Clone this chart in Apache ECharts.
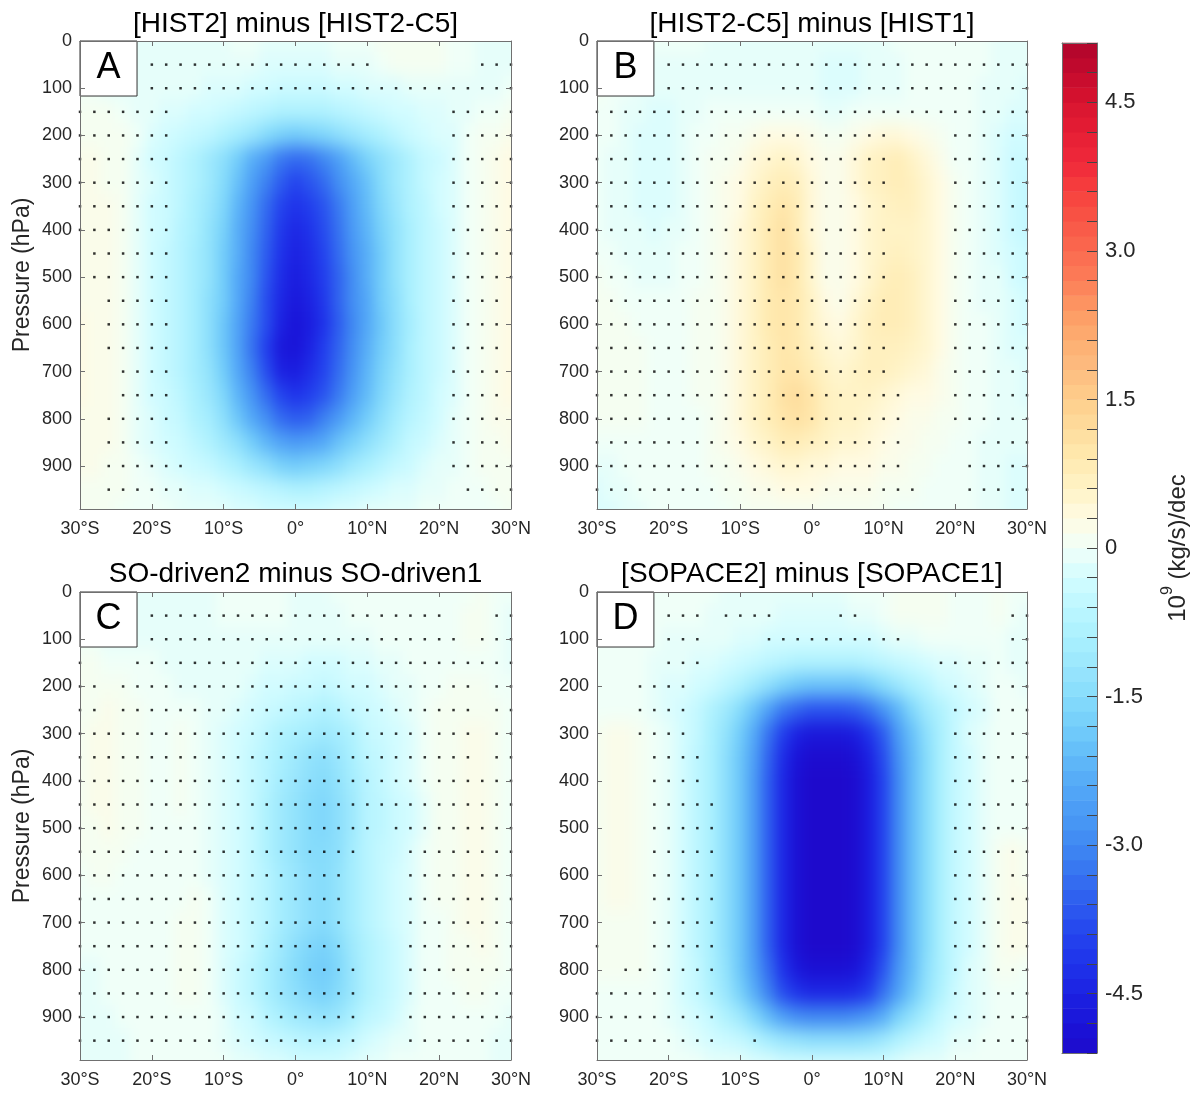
<!DOCTYPE html>
<html><head><meta charset="utf-8">
<script src="https://cdn.jsdelivr.net/npm/echarts@6/dist/echarts.min.js"></script>
<style>
html,body{margin:0;padding:0;background:#fff}
#wrap{position:relative;width:1193px;height:1093px;overflow:hidden}
#c{position:absolute;left:0;top:0;width:1193px;height:1093px;z-index:2}
.clip{position:absolute;overflow:hidden;z-index:1}
.heat{position:absolute;filter:url(#smooth)}
</style>
</head><body>
<svg width="0" height="0" style="position:absolute"><defs>
<filter id="smooth" x="-5%" y="-5%" width="110%" height="110%" color-interpolation-filters="sRGB"><feGaussianBlur stdDeviation="6 9"/></filter>
</defs></svg>
<div id="wrap"><div id="c"></div></div>
<script>
// ---------------- data ----------------
const LATS = [-30,-28,-26,-24,-22,-20,-18,-16,-14,-12,-10,-8,-6,-4,-2,0,2,4,6,8,10,12,14,16,18,20,22,24,26,28,30];
const PRESSURES = [0,50,100,150,200,250,300,350,400,450,500,550,600,650,700,750,800,850,900,950,1000];
const DOT_PRESSURES = [50,100,150,200,250,300,350,400,450,500,550,600,650,700,750,800,850,900,950];
const LAT_TICK_LABELS = ['30°S','20°S','10°S','0°','10°N','20°N','30°N'];
const PRESSURE_TICK_LABELS = ['0','100','200','300','400','500','600','700','800','900'];
const CBAR_TICK_LABELS = ['-4.5','-3.0','-1.5','0','1.5','3.0','4.5'];
const CBAR_TICK_VALUES = [-4.5,-3,-1.5,0,1.5,3,4.5];
const PANEL_TITLES = ['[HIST2] minus [HIST2-C5]','[HIST2-C5] minus [HIST1]','SO-driven2 minus SO-driven1','[SOPACE2] minus [SOPACE1]'];
const PANEL_LETTERS = ['A','B','C','D'];
const CBAR_LEVELS = [-5.1,-4.95,-4.8,-4.65,-4.5,-4.35,-4.2,-4.05,-3.9,-3.75,-3.6,-3.45,-3.3,-3.15,-3.0,-2.85,-2.7,-2.55,-2.4,-2.25,-2.1,-1.95,-1.8,-1.65,-1.5,-1.35,-1.2,-1.05,-0.9,-0.75,-0.6,-0.45,-0.3,-0.15,0,0.15,0.3,0.45,0.6,0.75,0.9,1.05,1.2,1.35,1.5,1.65,1.8,1.95,2.1,2.25,2.4,2.55,2.7,2.85,3.0,3.15,3.3,3.45,3.6,3.75,3.9,4.05,4.2,4.35,4.5,4.65,4.8,4.95];

// rows: pressure 0..1000 (step 50); columns: lat -30..30 (step 2)
const VALUES_A = [
[0.0,0.0,0.0,-0.1,-0.1,-0.1,-0.1,-0.1,-0.1,-0.1,-0.1,0.0,0.0,-0.1,-0.1,-0.1,-0.1,-0.1,0.0,0.0,0.0,0.1,0.1,0.1,0.1,0.1,0.0,0.0,-0.1,-0.1,-0.1],
[0.0,0.0,0.0,-0.1,-0.1,-0.1,-0.1,-0.1,-0.1,-0.1,-0.1,-0.1,-0.1,-0.2,-0.2,-0.2,-0.2,-0.2,-0.1,-0.1,-0.1,0.0,0.1,0.1,0.1,0.1,0.0,0.0,-0.1,-0.1,-0.1],
[0.0,0.0,-0.1,-0.1,-0.1,-0.1,-0.1,-0.1,-0.1,-0.2,-0.2,-0.2,-0.3,-0.3,-0.4,-0.4,-0.4,-0.4,-0.3,-0.3,-0.2,-0.2,-0.2,-0.1,-0.1,-0.1,-0.1,-0.1,-0.1,-0.1,0.0],
[0.1,0.1,0.1,0.0,-0.1,-0.1,-0.2,-0.2,-0.3,-0.3,-0.4,-0.5,-0.6,-0.7,-0.8,-0.8,-0.8,-0.8,-0.7,-0.6,-0.5,-0.4,-0.3,-0.3,-0.2,-0.2,-0.1,-0.1,0.0,0.0,0.1],
[0.1,0.1,0.1,0.1,0.0,-0.2,-0.3,-0.4,-0.5,-0.6,-0.8,-1.0,-1.2,-1.5,-1.7,-1.8,-1.7,-1.6,-1.4,-1.2,-1.0,-0.8,-0.6,-0.4,-0.3,-0.2,-0.2,0.0,0.1,0.1,0.2],
[0.2,0.2,0.1,0.1,-0.1,-0.3,-0.4,-0.6,-0.8,-1.1,-1.4,-1.8,-2.3,-2.7,-3.2,-3.4,-3.3,-3.0,-2.6,-2.1,-1.7,-1.4,-1.1,-0.8,-0.5,-0.4,-0.2,0.0,0.1,0.2,0.3],
[0.2,0.2,0.1,0.1,-0.1,-0.2,-0.4,-0.6,-0.8,-1.1,-1.5,-2.0,-2.6,-3.1,-3.6,-3.9,-3.7,-3.4,-2.9,-2.4,-2.0,-1.5,-1.1,-0.8,-0.5,-0.3,-0.2,0.0,0.1,0.2,0.3],
[0.2,0.2,0.2,0.1,-0.1,-0.3,-0.4,-0.6,-0.9,-1.2,-1.6,-2.2,-2.8,-3.4,-3.9,-4.2,-4.0,-3.7,-3.2,-2.6,-2.1,-1.6,-1.2,-0.8,-0.6,-0.3,-0.2,0.0,0.1,0.2,0.3],
[0.2,0.2,0.2,0.1,-0.1,-0.3,-0.4,-0.7,-0.9,-1.3,-1.7,-2.3,-2.9,-3.5,-4.1,-4.4,-4.2,-3.8,-3.3,-2.7,-2.2,-1.7,-1.3,-0.9,-0.6,-0.4,-0.2,0.0,0.1,0.2,0.3],
[0.2,0.2,0.2,0.1,-0.1,-0.3,-0.5,-0.7,-1.0,-1.3,-1.8,-2.3,-3.0,-3.6,-4.2,-4.5,-4.3,-3.9,-3.4,-2.8,-2.3,-1.8,-1.3,-0.9,-0.6,-0.4,-0.2,0.0,0.1,0.2,0.3],
[0.2,0.2,0.2,0.1,-0.1,-0.3,-0.5,-0.7,-1.0,-1.3,-1.8,-2.4,-3.0,-3.7,-4.3,-4.6,-4.4,-4.0,-3.5,-2.9,-2.3,-1.8,-1.3,-0.9,-0.6,-0.4,-0.2,0.0,0.1,0.2,0.3],
[0.2,0.2,0.2,0.1,-0.1,-0.3,-0.5,-0.7,-1.0,-1.4,-1.8,-2.4,-3.1,-3.8,-4.4,-4.7,-4.5,-4.1,-3.5,-2.9,-2.4,-1.8,-1.4,-0.9,-0.6,-0.4,-0.2,0.0,0.1,0.2,0.3],
[0.3,0.2,0.2,0.1,-0.1,-0.3,-0.5,-0.7,-1.0,-1.4,-1.9,-2.5,-3.2,-3.8,-4.5,-4.8,-4.6,-4.2,-3.6,-3.0,-2.4,-1.9,-1.4,-1.0,-0.6,-0.4,-0.2,0.0,0.1,0.2,0.3],
[0.3,0.2,0.2,0.1,-0.1,-0.3,-0.5,-0.7,-1.0,-1.4,-1.9,-2.5,-3.3,-4.0,-4.7,-4.8,-4.5,-4.0,-3.5,-2.9,-2.3,-1.8,-1.4,-0.9,-0.6,-0.4,-0.2,0.0,0.1,0.2,0.3],
[0.3,0.2,0.2,0.1,-0.1,-0.3,-0.5,-0.7,-1.0,-1.3,-1.8,-2.4,-3.1,-3.8,-4.5,-4.6,-4.3,-3.9,-3.4,-2.8,-2.2,-1.7,-1.3,-0.9,-0.6,-0.4,-0.2,0.0,0.1,0.2,0.3],
[0.3,0.2,0.2,0.1,-0.1,-0.3,-0.4,-0.6,-0.9,-1.2,-1.6,-2.2,-2.8,-3.4,-3.9,-4.2,-4.0,-3.7,-3.2,-2.6,-2.1,-1.6,-1.2,-0.8,-0.6,-0.3,-0.2,0.0,0.1,0.2,0.3],
[0.2,0.2,0.2,0.1,-0.1,-0.2,-0.4,-0.5,-0.8,-1.0,-1.4,-1.9,-2.4,-2.9,-3.4,-3.6,-3.5,-3.1,-2.7,-2.2,-1.8,-1.4,-1.0,-0.7,-0.5,-0.3,-0.1,0.0,0.1,0.2,0.2],
[0.2,0.2,0.2,0.1,-0.1,-0.2,-0.3,-0.4,-0.6,-0.8,-1.1,-1.4,-1.8,-2.2,-2.5,-2.7,-2.6,-2.4,-2.0,-1.7,-1.4,-1.1,-0.8,-0.5,-0.4,-0.2,-0.1,0.0,0.1,0.1,0.2],
[0.2,0.2,0.1,0.1,0.0,-0.1,-0.2,-0.3,-0.4,-0.5,-0.7,-0.9,-1.2,-1.4,-1.7,-1.8,-1.7,-1.6,-1.4,-1.1,-0.9,-0.7,-0.5,-0.4,-0.2,-0.1,-0.1,0.0,0.1,0.1,0.1],
[0.1,0.1,0.1,0.1,0.0,0.0,-0.1,-0.1,-0.2,-0.2,-0.3,-0.4,-0.5,-0.6,-0.7,-0.8,-0.8,-0.7,-0.6,-0.5,-0.4,-0.3,-0.2,-0.2,-0.1,-0.1,0.0,0.0,0.0,0.1,0.1],
[0.1,0.1,0.1,0.0,0.0,0.0,0.0,-0.1,-0.1,-0.1,-0.1,-0.2,-0.2,-0.3,-0.3,-0.3,-0.3,-0.3,-0.2,-0.2,-0.1,-0.1,-0.1,-0.1,0.0,0.0,0.0,0.0,0.0,0.0,0.1]
];
const VALUES_B = [
[0.0,0.0,0.0,0.0,0.0,0.0,0.0,0.0,-0.1,-0.1,-0.1,-0.1,-0.1,-0.1,-0.1,-0.1,-0.1,-0.1,-0.1,-0.1,-0.1,0.0,0.0,0.0,0.0,0.0,0.0,0.0,-0.1,-0.1,-0.1],
[0.0,0.0,0.0,-0.1,-0.1,-0.1,-0.1,-0.1,-0.1,-0.1,-0.1,-0.1,-0.1,-0.1,-0.1,-0.1,-0.2,-0.2,-0.2,-0.1,-0.1,-0.1,0.0,0.0,0.0,0.0,0.0,0.0,-0.1,-0.1,-0.1],
[0.1,0.0,0.0,-0.1,-0.1,-0.1,-0.1,-0.1,-0.1,-0.1,-0.1,-0.1,-0.1,-0.1,-0.1,-0.1,-0.2,-0.2,-0.2,-0.1,-0.1,-0.1,0.0,0.0,0.0,0.0,0.0,-0.1,-0.1,-0.1,-0.2],
[0.0,0.0,-0.1,-0.1,-0.2,-0.2,-0.1,-0.1,0.0,0.0,0.0,0.0,0.0,0.0,0.0,0.0,-0.1,-0.1,0.0,0.0,0.0,0.0,0.0,0.0,0.0,0.0,0.0,-0.1,-0.1,-0.2,-0.2],
[0.0,0.0,-0.1,-0.2,-0.2,-0.2,-0.1,0.0,0.0,0.1,0.1,0.2,0.3,0.3,0.3,0.2,0.1,0.1,0.2,0.3,0.4,0.4,0.3,0.2,0.1,0.0,0.0,-0.1,-0.2,-0.3,-0.3],
[0.0,-0.1,-0.1,-0.2,-0.2,-0.2,-0.1,0.0,0.1,0.1,0.2,0.4,0.5,0.6,0.5,0.3,0.2,0.2,0.4,0.6,0.7,0.8,0.6,0.4,0.2,0.0,0.0,-0.1,-0.2,-0.4,-0.4],
[0.0,-0.1,-0.1,-0.2,-0.2,-0.2,-0.1,0.0,0.1,0.2,0.3,0.5,0.7,0.8,0.7,0.4,0.2,0.2,0.4,0.6,0.7,0.8,0.7,0.5,0.3,0.1,0.0,-0.1,-0.2,-0.4,-0.5],
[0.0,-0.1,-0.1,-0.2,-0.2,-0.2,-0.1,0.0,0.1,0.2,0.3,0.6,0.8,1.0,0.8,0.4,0.2,0.2,0.3,0.5,0.6,0.7,0.7,0.5,0.3,0.1,0.0,-0.1,-0.2,-0.4,-0.5],
[0.0,-0.1,-0.1,-0.1,-0.2,-0.1,-0.1,0.0,0.1,0.2,0.4,0.6,0.9,1.1,0.8,0.4,0.2,0.2,0.3,0.5,0.6,0.6,0.6,0.5,0.3,0.1,0.0,-0.1,-0.2,-0.4,-0.5],
[0.0,0.0,-0.1,-0.1,-0.1,-0.1,0.0,0.0,0.1,0.2,0.4,0.6,0.9,1.1,0.9,0.5,0.2,0.2,0.3,0.5,0.6,0.7,0.6,0.5,0.3,0.1,0.0,-0.1,-0.2,-0.3,-0.4],
[0.1,0.0,0.0,-0.1,-0.1,-0.1,0.0,0.0,0.1,0.2,0.4,0.6,0.9,1.1,0.9,0.5,0.2,0.2,0.3,0.5,0.7,0.8,0.7,0.5,0.3,0.1,0.0,-0.1,-0.1,-0.3,-0.4],
[0.1,0.1,0.0,0.0,0.0,0.0,0.0,0.1,0.1,0.2,0.4,0.6,0.9,1.0,0.9,0.6,0.3,0.2,0.4,0.6,0.8,0.8,0.7,0.5,0.3,0.1,0.0,-0.1,-0.1,-0.2,-0.3],
[0.1,0.1,0.1,0.0,0.0,0.0,0.0,0.1,0.1,0.2,0.4,0.6,0.9,1.0,0.9,0.6,0.4,0.3,0.5,0.7,0.8,0.8,0.7,0.5,0.3,0.1,0.0,0.0,-0.1,-0.2,-0.3],
[0.1,0.1,0.1,0.1,0.0,0.0,0.0,0.1,0.1,0.2,0.4,0.6,0.8,1.0,0.9,0.7,0.5,0.4,0.5,0.7,0.7,0.7,0.6,0.5,0.3,0.1,0.0,0.0,-0.1,-0.2,-0.2],
[0.1,0.1,0.1,0.1,0.0,0.0,0.0,0.1,0.1,0.2,0.4,0.6,0.8,1.0,1.0,0.8,0.6,0.5,0.6,0.7,0.7,0.6,0.5,0.4,0.2,0.1,0.0,0.0,-0.1,-0.1,-0.2],
[0.1,0.1,0.1,0.1,0.0,0.0,0.0,0.1,0.1,0.2,0.4,0.6,0.8,1.1,1.2,1.0,0.7,0.6,0.6,0.6,0.5,0.4,0.3,0.3,0.2,0.1,0.0,0.0,-0.1,-0.1,-0.2],
[0.1,0.1,0.1,0.1,0.0,0.0,0.0,0.0,0.1,0.2,0.4,0.6,0.8,1.0,1.1,1.0,0.7,0.6,0.6,0.5,0.4,0.3,0.2,0.2,0.1,0.1,0.0,0.0,-0.1,-0.1,-0.1],
[0.0,0.0,0.0,0.0,0.0,0.0,0.0,0.0,0.1,0.2,0.3,0.5,0.6,0.8,0.8,0.7,0.6,0.5,0.5,0.4,0.3,0.2,0.2,0.1,0.1,0.0,0.0,-0.1,-0.1,-0.1,-0.1],
[-0.1,-0.1,0.0,0.0,0.0,0.0,0.0,0.0,0.1,0.1,0.2,0.3,0.4,0.5,0.5,0.4,0.4,0.3,0.3,0.3,0.2,0.2,0.1,0.1,0.0,0.0,0.0,-0.1,-0.1,-0.2,-0.2],
[-0.2,-0.1,-0.1,0.0,0.0,0.0,0.0,0.0,0.0,0.1,0.1,0.2,0.2,0.3,0.3,0.3,0.2,0.2,0.2,0.2,0.1,0.1,0.1,0.0,0.0,0.0,0.0,-0.1,-0.1,-0.2,-0.2],
[-0.2,-0.2,-0.1,-0.1,0.0,0.0,0.0,0.0,0.0,0.0,0.1,0.1,0.1,0.1,0.1,0.1,0.1,0.1,0.1,0.1,0.1,0.0,0.0,0.0,0.0,0.0,0.0,-0.1,-0.1,-0.2,-0.2]
];
const VALUES_C = [
[0.0,0.0,0.0,-0.1,-0.1,-0.1,-0.1,-0.1,-0.1,-0.1,0.0,0.0,0.0,0.0,0.0,-0.1,-0.1,-0.1,0.0,0.0,0.0,0.0,0.0,0.0,0.0,0.0,0.0,0.0,0.1,0.0,0.0],
[0.0,0.0,-0.1,-0.1,-0.1,-0.1,-0.1,-0.1,-0.1,-0.1,0.0,0.0,0.0,0.0,0.0,-0.1,-0.1,-0.1,-0.1,0.0,0.0,0.0,0.0,0.0,0.0,0.0,0.0,0.1,0.1,0.0,-0.1],
[0.0,0.0,-0.1,-0.1,-0.1,-0.1,-0.1,-0.1,-0.1,-0.1,-0.1,-0.1,-0.1,-0.1,-0.1,-0.1,-0.1,-0.1,-0.1,-0.1,-0.1,0.0,0.0,0.0,0.0,0.0,0.0,0.1,0.1,0.0,-0.1],
[0.1,0.1,0.0,0.0,0.0,0.0,-0.1,-0.1,-0.1,-0.1,-0.1,-0.1,-0.1,-0.2,-0.2,-0.2,-0.3,-0.3,-0.3,-0.2,-0.2,-0.1,-0.1,0.0,0.0,0.0,0.0,0.0,0.0,0.0,-0.1],
[0.1,0.1,0.1,0.1,0.0,0.0,0.0,-0.1,-0.1,-0.1,-0.1,-0.1,-0.2,-0.3,-0.3,-0.4,-0.4,-0.5,-0.4,-0.3,-0.3,-0.2,-0.1,-0.1,0.0,0.0,0.1,0.1,0.1,0.0,0.0],
[0.1,0.1,0.2,0.1,0.1,0.0,0.0,0.0,0.0,-0.1,-0.1,-0.2,-0.3,-0.4,-0.5,-0.6,-0.7,-0.8,-0.7,-0.5,-0.4,-0.3,-0.2,-0.1,0.0,0.1,0.1,0.1,0.1,0.1,0.0],
[0.1,0.2,0.2,0.1,0.1,0.0,0.0,0.1,0.0,-0.1,-0.2,-0.3,-0.4,-0.6,-0.8,-0.9,-1.0,-1.1,-1.0,-0.8,-0.5,-0.4,-0.3,-0.2,0.0,0.1,0.1,0.2,0.2,0.1,0.0],
[0.1,0.2,0.2,0.1,0.1,0.0,0.0,0.1,0.0,-0.1,-0.2,-0.3,-0.5,-0.7,-0.9,-1.1,-1.3,-1.4,-1.2,-0.9,-0.6,-0.5,-0.3,-0.2,0.0,0.1,0.1,0.2,0.2,0.1,0.0],
[0.1,0.2,0.2,0.1,0.1,0.0,0.0,0.1,0.0,-0.1,-0.2,-0.3,-0.5,-0.7,-1.0,-1.2,-1.4,-1.5,-1.3,-1.0,-0.7,-0.5,-0.3,-0.2,0.0,0.1,0.1,0.2,0.2,0.1,0.0],
[0.1,0.2,0.2,0.1,0.1,0.0,0.0,0.1,0.0,-0.1,-0.2,-0.3,-0.5,-0.8,-1.1,-1.3,-1.5,-1.6,-1.4,-1.1,-0.7,-0.6,-0.4,-0.3,-0.1,0.1,0.1,0.2,0.2,0.1,0.0],
[0.1,0.1,0.2,0.1,0.1,0.0,0.0,0.0,0.0,-0.1,-0.2,-0.3,-0.5,-0.8,-1.1,-1.3,-1.5,-1.6,-1.4,-1.1,-0.7,-0.6,-0.4,-0.3,-0.1,0.1,0.1,0.2,0.2,0.1,0.0],
[0.1,0.1,0.1,0.1,0.0,0.0,0.0,0.0,0.0,-0.1,-0.2,-0.3,-0.5,-0.8,-1.1,-1.3,-1.5,-1.5,-1.4,-1.0,-0.7,-0.5,-0.4,-0.2,0.0,0.1,0.1,0.2,0.2,0.1,0.0],
[0.0,0.1,0.1,0.0,0.0,0.0,0.0,0.0,0.0,-0.1,-0.2,-0.3,-0.5,-0.7,-1.0,-1.2,-1.4,-1.5,-1.3,-1.0,-0.7,-0.5,-0.3,-0.2,0.0,0.1,0.1,0.2,0.2,0.1,0.0],
[0.0,0.0,0.0,0.0,0.0,0.0,0.0,0.0,0.1,0.0,-0.2,-0.3,-0.5,-0.7,-1.0,-1.2,-1.4,-1.5,-1.3,-1.0,-0.7,-0.5,-0.3,-0.2,0.0,0.1,0.1,0.2,0.2,0.1,0.0],
[0.0,0.0,0.0,0.0,0.0,0.0,0.0,0.1,0.1,0.0,-0.2,-0.3,-0.5,-0.7,-1.0,-1.2,-1.4,-1.5,-1.3,-1.0,-0.7,-0.5,-0.3,-0.2,0.0,0.0,0.1,0.2,0.2,0.1,0.0],
[0.0,0.0,0.0,0.0,0.0,0.0,0.0,0.1,0.1,0.0,-0.2,-0.3,-0.5,-0.8,-1.1,-1.4,-1.6,-1.7,-1.5,-1.1,-0.8,-0.6,-0.4,-0.2,0.0,0.0,0.1,0.1,0.2,0.1,0.0],
[-0.1,-0.1,0.0,0.0,0.0,0.0,0.0,0.1,0.1,0.0,-0.2,-0.4,-0.6,-0.9,-1.2,-1.5,-1.7,-1.8,-1.6,-1.2,-0.8,-0.6,-0.4,-0.2,0.0,0.0,0.1,0.1,0.1,0.1,0.0],
[-0.1,-0.1,0.0,0.0,0.0,0.0,0.0,0.1,0.1,0.0,-0.2,-0.4,-0.6,-0.9,-1.2,-1.4,-1.6,-1.7,-1.5,-1.2,-0.8,-0.6,-0.4,-0.2,0.0,0.0,0.0,0.1,0.1,0.0,0.0],
[-0.1,-0.1,-0.1,0.0,0.0,0.0,0.0,0.0,0.0,0.0,-0.1,-0.3,-0.4,-0.7,-0.9,-1.1,-1.2,-1.3,-1.2,-0.9,-0.6,-0.5,-0.3,-0.1,0.0,0.0,0.0,0.0,0.0,0.0,-0.1],
[-0.1,-0.1,-0.1,-0.1,0.0,0.0,0.0,0.0,0.0,0.0,-0.1,-0.2,-0.3,-0.4,-0.5,-0.6,-0.7,-0.7,-0.6,-0.5,-0.3,-0.2,-0.1,-0.1,0.0,0.0,0.0,0.0,0.0,-0.1,-0.1],
[-0.1,-0.1,-0.1,-0.1,0.0,0.0,0.0,0.0,0.0,0.0,0.0,-0.1,-0.1,-0.2,-0.2,-0.3,-0.3,-0.3,-0.3,-0.2,-0.1,-0.1,0.0,0.0,0.0,0.0,0.0,0.0,0.0,-0.1,-0.1]
];
const VALUES_D = [
[0.0,0.0,0.0,0.0,0.0,0.0,0.0,0.0,0.0,-0.1,-0.1,-0.1,-0.1,-0.1,-0.1,-0.1,-0.1,-0.1,0.0,0.0,0.0,0.1,0.1,0.1,0.1,0.0,0.0,0.0,0.1,0.0,0.0],
[0.0,0.0,0.0,0.0,0.0,0.0,0.0,0.0,-0.1,-0.1,-0.1,-0.1,-0.1,-0.2,-0.2,-0.2,-0.2,-0.2,-0.1,-0.1,0.0,0.1,0.1,0.1,0.1,0.0,0.0,0.0,0.1,0.0,-0.1],
[0.0,0.0,0.0,0.0,0.0,-0.1,-0.1,-0.1,-0.1,-0.1,-0.2,-0.2,-0.3,-0.3,-0.3,-0.3,-0.3,-0.3,-0.3,-0.3,-0.2,-0.1,-0.1,0.0,0.0,0.0,0.0,0.0,0.0,-0.1,-0.1],
[0.0,0.0,0.0,0.0,-0.1,-0.1,-0.1,-0.2,-0.2,-0.3,-0.4,-0.5,-0.6,-0.7,-0.8,-0.8,-0.8,-0.8,-0.8,-0.7,-0.6,-0.5,-0.4,-0.3,-0.2,-0.2,-0.1,-0.1,0.0,-0.1,-0.1],
[0.0,0.0,0.0,0.0,-0.1,-0.2,-0.2,-0.3,-0.4,-0.6,-0.8,-1.1,-1.4,-1.7,-1.9,-2.0,-2.0,-2.0,-2.0,-1.8,-1.5,-1.2,-0.9,-0.7,-0.4,-0.3,-0.2,-0.1,0.0,0.0,-0.1],
[0.0,0.0,0.0,0.0,-0.1,-0.2,-0.3,-0.5,-0.8,-1.1,-1.5,-2.0,-2.6,-3.2,-3.5,-3.7,-3.7,-3.7,-3.6,-3.3,-2.8,-2.2,-1.6,-1.1,-0.8,-0.5,-0.3,-0.2,0.0,0.0,0.0],
[0.1,0.2,0.2,0.1,0.0,-0.1,-0.3,-0.5,-0.9,-1.3,-1.8,-2.4,-3.3,-4.0,-4.5,-4.7,-4.7,-4.7,-4.6,-4.2,-3.6,-2.7,-2.0,-1.4,-0.9,-0.5,-0.2,-0.1,0.0,0.0,0.0],
[0.1,0.2,0.2,0.1,0.0,-0.1,-0.3,-0.6,-0.9,-1.4,-1.9,-2.6,-3.5,-4.3,-4.8,-5.0,-5.0,-5.0,-4.9,-4.5,-3.8,-2.9,-2.1,-1.5,-0.9,-0.5,-0.3,-0.1,0.0,0.0,0.0],
[0.1,0.2,0.2,0.1,0.0,-0.1,-0.3,-0.6,-0.9,-1.4,-1.9,-2.7,-3.6,-4.4,-4.9,-5.1,-5.1,-5.1,-5.0,-4.6,-3.9,-3.0,-2.1,-1.5,-0.9,-0.5,-0.3,-0.1,0.0,0.0,0.0],
[0.1,0.2,0.2,0.1,0.0,-0.1,-0.3,-0.6,-0.9,-1.4,-1.9,-2.7,-3.6,-4.4,-4.9,-5.1,-5.1,-5.1,-5.0,-4.6,-3.9,-3.0,-2.1,-1.5,-0.9,-0.5,-0.3,-0.1,0.0,0.0,0.0],
[0.1,0.2,0.2,0.1,0.0,-0.1,-0.3,-0.6,-0.9,-1.4,-1.9,-2.7,-3.6,-4.4,-4.9,-5.1,-5.1,-5.1,-5.0,-4.6,-3.9,-3.0,-2.1,-1.5,-0.9,-0.5,-0.3,-0.1,0.0,0.0,0.0],
[0.1,0.2,0.2,0.1,0.0,-0.1,-0.3,-0.6,-0.9,-1.4,-1.9,-2.7,-3.6,-4.4,-4.9,-5.1,-5.1,-5.1,-5.0,-4.6,-3.9,-3.0,-2.1,-1.5,-0.9,-0.5,-0.3,-0.1,0.1,0.2,0.1],
[0.1,0.2,0.2,0.1,0.0,-0.1,-0.3,-0.6,-0.9,-1.4,-1.9,-2.7,-3.6,-4.4,-4.9,-5.1,-5.1,-5.1,-5.0,-4.6,-3.9,-3.0,-2.1,-1.5,-0.9,-0.5,-0.3,-0.1,0.1,0.2,0.1],
[0.1,0.2,0.2,0.1,0.0,-0.1,-0.3,-0.6,-0.9,-1.4,-1.9,-2.7,-3.6,-4.4,-4.9,-5.1,-5.1,-5.1,-5.0,-4.6,-3.9,-3.0,-2.1,-1.5,-0.9,-0.5,-0.3,-0.1,0.1,0.2,0.2],
[0.1,0.1,0.1,0.1,0.0,-0.1,-0.3,-0.6,-0.9,-1.4,-1.9,-2.7,-3.6,-4.4,-4.9,-5.1,-5.1,-5.1,-5.0,-4.6,-3.9,-3.0,-2.1,-1.5,-0.9,-0.5,-0.3,-0.1,0.1,0.2,0.2],
[0.1,0.1,0.1,0.1,0.0,-0.1,-0.3,-0.6,-0.9,-1.4,-1.9,-2.7,-3.6,-4.4,-4.9,-5.1,-5.1,-5.1,-5.0,-4.6,-3.9,-3.0,-2.1,-1.5,-0.9,-0.5,-0.3,-0.1,0.1,0.2,0.2],
[0.1,0.1,0.1,0.1,0.0,-0.1,-0.3,-0.5,-0.9,-1.3,-1.9,-2.6,-3.4,-4.2,-4.7,-4.9,-4.9,-4.9,-4.8,-4.4,-3.7,-2.8,-2.1,-1.4,-0.9,-0.5,-0.2,-0.1,0.1,0.1,0.0],
[0.0,0.0,0.0,0.0,0.0,-0.1,-0.3,-0.5,-0.8,-1.2,-1.7,-2.3,-3.1,-3.8,-4.2,-4.4,-4.4,-4.4,-4.3,-4.0,-3.3,-2.6,-1.9,-1.3,-0.8,-0.4,-0.2,-0.1,0.0,0.0,0.0],
[0.0,0.0,0.0,0.0,0.0,-0.1,-0.2,-0.3,-0.5,-0.8,-1.1,-1.6,-2.1,-2.6,-2.9,-3.0,-3.0,-3.0,-2.9,-2.7,-2.3,-1.7,-1.3,-0.9,-0.5,-0.3,-0.2,-0.1,0.0,0.0,0.0],
[0.0,0.0,0.0,0.0,0.0,0.0,-0.1,-0.2,-0.3,-0.4,-0.5,-0.7,-1.0,-1.2,-1.3,-1.4,-1.4,-1.4,-1.4,-1.3,-1.1,-0.8,-0.6,-0.4,-0.3,-0.1,-0.1,0.0,0.0,0.0,0.0],
[0.0,0.0,0.0,0.0,0.0,0.0,0.0,0.0,-0.1,-0.1,-0.1,-0.2,-0.2,-0.3,-0.3,-0.3,-0.3,-0.3,-0.3,-0.3,-0.3,-0.2,-0.1,-0.1,-0.1,0.0,0.0,0.0,0.0,0.0,0.0]
];

// significance stippling: for each pressure in DOT_PRESSURES, column index ranges [from,to] (column = LATS index)
const DOTS_A = [
[[5,20],[28,30]],[[5,30]],[[0,6],[26,30]],[[0,6],[26,30]],[[0,6],[26,30]],[[0,6],[26,30]],[[0,6],[26,30]],[[0,6],[26,30]],
[[1,6],[26,30]],[[1,6],[26,30]],[[2,6],[26,29]],[[2,6],[26,29]],[[2,6],[26,29]],[[3,6],[26,29]],[[3,6],[26,29]],
[[2,6],[26,29]],[[2,6],[26,29]],[[2,7],[26,30]],[[2,7],[27,30]]
];
const DOTS_B = [
[[5,30]],[[5,10],[13,30]],[[0,30]],[[0,20],[25,30]],[[0,20],[25,30]],[[0,20],[25,30]],[[0,20],[25,30]],[[0,20],[25,30]],
[[0,20],[25,30]],[[0,20],[25,30]],[[0,20],[25,30]],[[0,20],[25,30]],[[0,20],[25,30]],[[0,20],[25,30]],
[[0,21],[25,30]],[[0,21],[25,30]],[[0,21],[26,30]],[[0,21],[26,30]],[[0,22],[26,30]]
];
const DOTS_C = [
[[5,25],[29,30]],[[5,26],[28,30]],[[0,0],[4,30]],[[0,1],[3,27],[29,30]],[[0,1],[3,27],[29,30]],[[0,27],[29,30]],[[0,27],[29,30]],
[[0,30]],[[0,30]],[[0,20],[22,30]],[[0,19],[23,30]],[[0,18],[23,30]],[[0,18],[23,30]],[[0,18],[23,30]],[[0,18],[23,30]],
[[0,19],[23,30]],[[0,19],[23,30]],[[0,19],[23,30]],[[0,19],[23,30]]
];
const DOTS_D = [
[[5,7],[9,12],[17,18],[29,30]],[[5,7],[12,21],[29,30]],[[5,7],[24,30]],[[3,6],[25,30]],[[3,6],[25,30]],[[3,6],[25,30]],
[[4,7],[25,30]],[[4,7],[25,27],[29,30]],[[4,8],[25,30]],[[4,8],[25,30]],[[4,8],[25,30]],[[4,8],[25,30]],[[4,8],[25,30]],
[[4,8],[25,30]],[[0,0],[4,8],[25,30]],[[2,8],[25,30]],[[0,8],[25,30]],[[0,8],[25,30]],[[0,8],[11,11],[25,30]]
];

// ---------------- styles / layout ----------------
const COLOR_STOPS = ['#1e0acc','#1a14d8','#1c22e2','#1f33ea','#2444ee','#2d5cef','#3672f0','#3f88f2','#4a9af5','#53a8f7','#62bbf8','#73cdfa','#86dcfb','#9ae6fd','#aaf0fe','#bdf6ff','#d2fcff','#f0fff8','#fffbe3','#fff3c6','#ffeab0','#fedd9d','#fece8c','#fdbd80','#fdae72','#fd9a64','#fc7e58','#fa6a50','#f85646','#f6413e','#f0283a','#e51e35','#d8142f','#c40a2d','#b0052b'];
const FONT = '"Liberation Sans", Arial, Helvetica, sans-serif';
const TXT = '#262626';
const LINE = '#707070';
const P_MAX = 991;
const GRIDS = [
  {left:80, top:41, width:431, height:468},
  {left:597, top:41, width:430, height:468},
  {left:80, top:592, width:431, height:468},
  {left:597, top:592, width:430, height:468}
];
const HEAT_PAD = 30;
const TITLE_POS = [[295.5,24],[812,24],[295.5,574],[812,574]];
const LABEL_BOX = {lat:-22.06, p:116.5};

const panels = [VALUES_A, VALUES_B, VALUES_C, VALUES_D];
const dots = [DOTS_A, DOTS_B, DOTS_C, DOTS_D];
panels.forEach((v,k)=>{ if (v.length!==PRESSURES.length) throw new Error('rows '+k); v.forEach((r,i)=>{ if(r.length!==LATS.length) throw new Error('panel '+k+' row '+i+' len '+r.length); }); });
dots.forEach((d,k)=>{ if (d.length!==DOT_PRESSURES.length) throw new Error('dots rows '+k+' '+d.length); });

function latLabel(v){ const i = Math.round((v+30)/10); return (Math.abs(v-(i*10-30))<1e-6) ? LAT_TICK_LABELS[i] : ''; }
function presLabel(v){ return (v%100===0 && v<=900) ? PRESSURE_TICK_LABELS[v/100] : ''; }
function cbarLabel(v){ const idx = CBAR_TICK_VALUES.findIndex(t=>Math.abs(t-v)<1e-6); return idx>=0 ? CBAR_TICK_LABELS[idx] : ''; }

// one cell per grid value; outermost cells are stretched into the padding so the smoothing has no faded edge
function cellRender(params, api){
  const lat = api.value(0), p = api.value(1);
  const a = api.coord([lat-1, p-25]);
  const b = api.coord([lat+1, p+25]);
  let x0 = Math.min(a[0],b[0]), x1 = Math.max(a[0],b[0]);
  let y0 = Math.min(a[1],b[1]), y1 = Math.max(a[1],b[1]);
  if (lat === LATS[0]) x0 -= HEAT_PAD;
  if (lat === LATS[LATS.length-1]) x1 += HEAT_PAD;
  if (p === PRESSURES[0]) y0 -= HEAT_PAD;
  if (p === PRESSURES[PRESSURES.length-1]) y1 += HEAT_PAD;
  return {type:'rect', shape:{x:x0-0.5, y:y0-0.5, width:x1-x0+1, height:y1-y0+1}, style:{fill:api.visual('color')}};
}
function bandRender(params, api){
  const lo = api.value(1);
  const a = api.coord([0, lo]);
  const b = api.coord([1, lo+0.15]);
  return {type:'rect', shape:{x:a[0], y:Math.min(a[1],b[1])-0.3, width:b[0]-a[0], height:Math.abs(b[1]-a[1])+0.6}, style:{fill:api.visual('color')}};
}
const VISUAL = {type:'continuous', show:false, min:-5.1, max:5.1, dimension:2, inRange:{color:COLOR_STOPS}};

// ---- field layers (one chart per panel, clipped to the plot box) ----
const wrap = document.getElementById('wrap');
GRIDS.forEach((g,k)=>{
  const clip = document.createElement('div');
  clip.className = 'clip';
  Object.assign(clip.style, {left:g.left+'px', top:g.top+'px', width:g.width+'px', height:g.height+'px'});
  const hd = document.createElement('div');
  hd.className = 'heat';
  Object.assign(hd.style, {left:(-HEAT_PAD)+'px', top:(-HEAT_PAD)+'px', width:(g.width+2*HEAT_PAD)+'px', height:(g.height+2*HEAT_PAD)+'px'});
  clip.appendChild(hd); wrap.appendChild(clip);
  const data = [];
  panels[k].forEach((row,i)=>row.forEach((v,j)=>data.push([LATS[j], PRESSURES[i], v])));
  const hc = echarts.init(hd, null, {renderer:'canvas'});
  hc.setOption({
    animation:false, backgroundColor:'#ffffff',
    grid:{left:HEAT_PAD, top:HEAT_PAD, width:g.width, height:g.height, containLabel:false, outerBoundsMode:'none'},
    xAxis:{type:'value', min:-30, max:30, show:false},
    yAxis:{type:'value', min:0, max:P_MAX, inverse:true, show:false},
    visualMap:Object.assign({seriesIndex:0}, VISUAL),
    series:[{type:'custom', renderItem:cellRender, encode:{x:0, y:1}, data:data, clip:false, silent:true}]
  });
});

// ---- axes, stippling, labels, colorbar ----
const grid = GRIDS.map(g=>Object.assign({show:false, containLabel:false, outerBoundsMode:'none'}, g));
grid.push({left:1062, top:43, width:35, height:1010, show:false, containLabel:false, outerBoundsMode:'none'});

const xAxis = [], yAxis = [], series = [];
const axisLineCfg = {show:true, onZero:false, lineStyle:{color:LINE, width:1}};
const tickCfg = {show:true, inside:true, length:5, lineStyle:{color:LINE, width:1}};
GRIDS.forEach((g,k)=>{
  xAxis.push({type:'value', gridIndex:k, min:-30, max:30, interval:10, position:'bottom', z:10,
    axisLine:axisLineCfg, axisTick:tickCfg, splitLine:{show:false},
    axisLabel:{show:true, margin:11, color:TXT, fontSize:18, fontFamily:FONT, formatter:latLabel}});
  xAxis.push({type:'value', gridIndex:k, min:-30, max:30, interval:10, position:'top', z:10,
    axisLine:axisLineCfg, axisTick:tickCfg, splitLine:{show:false}, axisLabel:{show:false}});
  const yl = {type:'value', gridIndex:k, inverse:true, min:0, max:P_MAX, interval:100, position:'left', z:10,
    axisLine:axisLineCfg, axisTick:tickCfg, splitLine:{show:false},
    axisLabel:{show:true, margin:8, color:TXT, fontSize:18, fontFamily:FONT, formatter:presLabel, showMaxLabel:false}};
  if (k===0 || k===2) Object.assign(yl, {name:'Pressure (hPa)', nameLocation:'middle', nameGap:46, nameRotate:90,
    nameTextStyle:{fontSize:23, color:TXT, fontFamily:FONT}});
  yAxis.push(yl);
  yAxis.push({type:'value', gridIndex:k, inverse:true, min:0, max:P_MAX, interval:100, position:'right', z:10,
    axisLine:axisLineCfg, axisTick:tickCfg, splitLine:{show:false}, axisLabel:{show:false}});

  const pts = [];
  dots[k].forEach((ranges,r)=>ranges.forEach(([a,b])=>{ for(let j=a;j<=b;j++) pts.push([LATS[j], DOT_PRESSURES[r]]); }));
  series.push({type:'scatter', name:'sig'+k, xAxisIndex:2*k, yAxisIndex:2*k, data:pts, symbol:'rect', symbolSize:2.5,
    itemStyle:{color:'#000'}, clip:false, silent:true, z:5, animation:false,
    markArea:{silent:true, z:6, itemStyle:{color:'#ffffff', borderColor:'#333', borderWidth:1, opacity:1},
      label:{show:true, position:'inside', fontSize:36, color:'#000', fontFamily:FONT},
      data:[[{name:PANEL_LETTERS[k], coord:[-30,0]},{coord:[LABEL_BOX.lat, LABEL_BOX.p]}]]}});
});
// colorbar
const cbLine = {show:true, onZero:false, lineStyle:{color:LINE}};
xAxis.push({type:'value', gridIndex:4, min:0, max:1, show:true, z:10, position:'bottom',
  axisLine:cbLine, axisTick:{show:false}, axisLabel:{show:false}, splitLine:{show:false}});
xAxis.push({type:'value', gridIndex:4, min:0, max:1, show:true, z:10, position:'top',
  axisLine:cbLine, axisTick:{show:false}, axisLabel:{show:false}, splitLine:{show:false}});
yAxis.push({type:'value', gridIndex:4, min:-5.1, max:5.1, interval:0.3, position:'right', z:10,
  axisLine:cbLine, axisTick:{show:true, inside:true, length:10, lineStyle:{color:'#444'}},
  splitLine:{show:false}, axisLabel:{show:true, margin:8, color:TXT, fontSize:22, fontFamily:FONT, formatter:cbarLabel}});
yAxis.push({type:'value', gridIndex:4, min:-5.1, max:5.1, position:'left', z:10,
  axisLine:cbLine, axisTick:{show:false}, axisLabel:{show:false}, splitLine:{show:false}});
series.push({type:'custom', name:'colorbar', xAxisIndex:8, yAxisIndex:8, renderItem:bandRender, encode:{x:0, y:1},
  data:CBAR_LEVELS.map(l=>[0, l, l+0.075]), z:1, silent:true});

const graphic = PANEL_TITLES.map((t,k)=>({type:'text', x:TITLE_POS[k][0], y:TITLE_POS[k][1], z:20,
  style:{text:t, align:'center', verticalAlign:'middle', fontSize:28, fontFamily:FONT, fill:'#000'}}));
graphic.push({type:'text', x:1175, y:548, rotation:Math.PI/2, z:20,
  style:{text:'{a|10}{b|9}{a| (kg/s)/dec}', align:'center', verticalAlign:'middle', fill:TXT,
    rich:{a:{fontSize:24, fontFamily:FONT, fill:TXT, lineHeight:30, verticalAlign:'bottom'},
          b:{fontSize:16, fontFamily:FONT, fill:TXT, lineHeight:30, verticalAlign:'top'}}}});

const chart = echarts.init(document.getElementById('c'), null, {renderer:'canvas'});
chart.setOption({
  animation:false,
  backgroundColor:'transparent',
  textStyle:{fontFamily:FONT},
  grid, xAxis, yAxis, series, graphic,
  visualMap:Object.assign({seriesIndex:[4]}, VISUAL)
});
</script></body></html>
